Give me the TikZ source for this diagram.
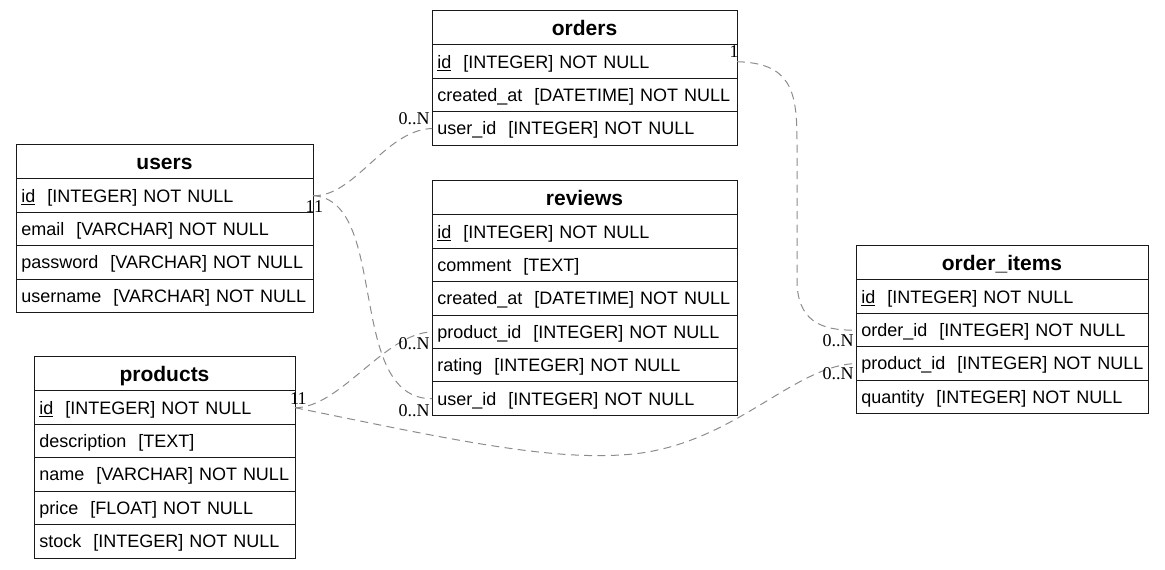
\documentclass[tikz,border=0pt]{standalone}
\usepackage{fontspec}
\setmainfont{Liberation Sans}
\newfontfamily\labelfont{Liberation Serif}
\usetikzlibrary{positioning}
\tikzset{
	tbl/.style={draw=black!90, line width=0.75pt, outer sep=0pt, inner xsep=4pt, inner ysep=0pt, text height=9.7pt, text depth=0pt, font=\fontsize{13.5}{16}\selectfont},
	head/.style={tbl, anchor=north, text width=#1, align=center, minimum height=25.5pt, text height=11.3pt, font=\fontsize{15.75}{18}\selectfont\bfseries},
	field/.style={tbl, text width=#1, align=left, minimum height=25.05pt, execute at begin node={\hbox to\hsize\bgroup}, execute at end node={\hfil\egroup}},
	rel/.style={draw=black!45, line width=0.75pt, dash pattern=on 6pt off 4pt},
	mult/.style={inner sep=0pt, font=\labelfont\fontsize{13.5}{16}\selectfont}
}

\begin{document}
\begin{tikzpicture}[x=0.75pt, y=-0.75pt]
	\useasboundingbox (0,0) rectangle (1165,570);
	% orders
	\node [head=220.75pt] (orders) at (584.5,11) {orders};
	\node [field=220.75pt, below=0pt of orders] (orders-id) {\underline{id}\ \ [INTEGER] NOT NULL};
	\node [field=220.75pt, below=0pt of orders-id] (orders-created_at) {created\_at\ \ [DATETIME] NOT NULL};
	\node [field=220.75pt, below=0pt of orders-created_at] (orders-user_id) {user\_id\ \ [INTEGER] NOT NULL};
	% users
	\node [head=214.75pt] (users) at (164.5,145) {users};
	\node [field=214.75pt, below=0pt of users] (users-id) {\underline{id}\ \ [INTEGER] NOT NULL};
	\node [field=214.75pt, below=0pt of users-id] (users-email) {email\ \ [VARCHAR] NOT NULL};
	\node [field=214.75pt, below=0pt of users-email] (users-password) {password\ \ [VARCHAR] NOT NULL};
	\node [field=214.75pt, below=0pt of users-password] (users-username) {username\ \ [VARCHAR] NOT NULL};
	% reviews
	\node [head=220.75pt] (reviews) at (584.5,181) {reviews};
	\node [field=220.75pt, below=0pt of reviews] (reviews-id) {\underline{id}\ \ [INTEGER] NOT NULL};
	\node [field=220.75pt, below=0pt of reviews-id] (reviews-comment) {comment\ \ [TEXT]};
	\node [field=220.75pt, below=0pt of reviews-comment] (reviews-created_at) {created\_at\ \ [DATETIME] NOT NULL};
	\node [field=220.75pt, below=0pt of reviews-created_at] (reviews-product_id) {product\_id\ \ [INTEGER] NOT NULL};
	\node [field=220.75pt, below=0pt of reviews-product_id] (reviews-rating) {rating\ \ [INTEGER] NOT NULL};
	\node [field=220.75pt, below=0pt of reviews-rating] (reviews-user_id) {user\_id\ \ [INTEGER] NOT NULL};
	% order_items
	\node [head=211pt] (order_items) at (1002,246) {order\_items};
	\node [field=211pt, below=0pt of order_items] (order_items-id) {\underline{id}\ \ [INTEGER] NOT NULL};
	\node [field=211pt, below=0pt of order_items-id] (order_items-order_id) {order\_id\ \ [INTEGER] NOT NULL};
	\node [field=211pt, below=0pt of order_items-order_id] (order_items-product_id) {product\_id\ \ [INTEGER] NOT NULL};
	\node [field=211pt, below=0pt of order_items-product_id] (order_items-quantity) {quantity\ \ [INTEGER] NOT NULL};
	% products
	\node [head=187.75pt] (products) at (164.5,357) {products};
	\node [field=187.75pt, below=0pt of products] (products-id) {\underline{id}\ \ [INTEGER] NOT NULL};
	\node [field=187.75pt, below=0pt of products-id] (products-description) {description\ \ [TEXT]};
	\node [field=187.75pt, below=0pt of products-description] (products-name) {name\ \ [VARCHAR] NOT NULL};
	\node [field=187.75pt, below=0pt of products-name] (products-price) {price\ \ [FLOAT] NOT NULL};
	\node [field=187.75pt, below=0pt of products-price] (products-stock) {stock\ \ [INTEGER] NOT NULL};
	% relations
	\draw [rel] (users-id.east) .. controls (355,197) and (385,130) .. (orders-user_id.west);
	\draw [rel] (users-id.east) .. controls (390,200) and (345,399) .. (reviews-user_id.west);
	\draw [rel] (products-id.east) .. controls (340,408) and (385,333) .. (reviews-product_id.west);
	\draw [rel] (products-id.east) .. controls (430,435) and (540,460) .. (620,455) .. controls (730,450) and (790,366) .. (order_items-product_id.west);
	\draw [rel] (orders-id.east) .. controls (790,63) and (797,90) .. (797,140) -- (797,280) .. controls (797,320) and (820,331) .. (order_items-order_id.west);
	% multiplicities
	\node [mult] (m-users-orders) at (310,207) {1};
	\node [mult] (m-users-reviews) at (318.5,207) {1};
	\node [mult] (m-orders-users) at (414,119) {0..N};
	\node [mult] (m-reviews-users) at (414,411) {0..N};
	\node [mult] (m-products-reviews) at (294.5,399) {1};
	\node [mult] (m-products-items) at (302,399) {1};
	\node [mult] (m-reviews-products) at (414,344) {0..N};
	\node [mult] (m-orders-items) at (734,52) {1};
	\node [mult] (m-items-orders) at (838,341) {0..N};
	\node [mult] (m-items-products) at (838,374) {0..N};
\end{tikzpicture}
\end{document}
